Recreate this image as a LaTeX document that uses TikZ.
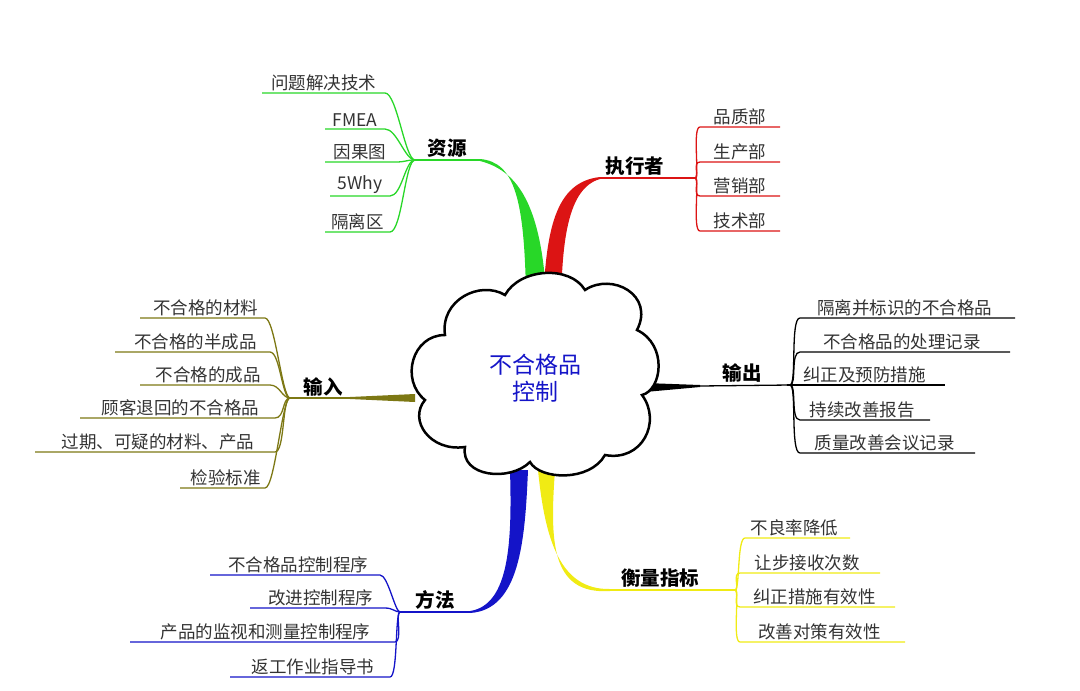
\documentclass[tikz,border=0pt]{standalone}
\usepackage{fontspec}
\newfontfamily\cjk{Noto Sans CJK SC}
\begin{document}
\begin{tikzpicture}[x=1pt,y=-1pt,
 leaf/.style={font=\cjk\fontsize{17.5}{20}\selectfont,anchor=south,inner sep=1pt,text=black!80},
 lab/.style={font=\cjk\bfseries\fontsize{19.5}{22}\selectfont,anchor=south,inner sep=1pt},
 ln/.style={line width=1.3pt}]
\useasboundingbox (0,0) rectangle (1080,691);
\definecolor{gr}{RGB}{40,215,40}\definecolor{rd}{RGB}{220,20,20}
\definecolor{ol}{RGB}{125,120,20}\definecolor{bl}{RGB}{20,20,200}
\definecolor{ye}{RGB}{240,235,20}
% tapers
\fill[gr] (526,292) .. controls (524,200) and (515,162) .. (480,159) -- (480,161) .. controls (515,170) and (540,200) .. (546,292) -- cycle;
\fill[rd] (543,305) .. controls (546,230) and (555,182) .. (600,177) -- (600,179) .. controls (568,188) and (562,240) .. (561,305) -- cycle;
\fill[bl] (510,470) .. controls (512,540) and (510,605) .. (470,611) -- (470,613) .. controls (520,610) and (525,540) .. (528,470) -- cycle;
\fill[ye] (538,470) .. controls (545,540) and (560,590) .. (610,589) -- (610,591) .. controls (550,595) and (550,540) .. (555,470) -- cycle;
\fill[black] (645,383) -- (700,385) -- (700,387) -- (645,392) -- cycle;
\fill[ol] (415,394) -- (350,397) -- (350,399) -- (415,402) -- cycle;
% cloud
\draw[line width=2.5pt,fill=white] (425,400) .. controls (400,380) and (412,335) .. (445,335) .. controls (440,300) and (480,280) .. (505,295) .. controls (520,268) and (570,265) .. (585,290) .. controls (612,272) and (655,295) .. (637,330) .. controls (668,345) and (662,390) .. (642,395) .. controls (662,422) and (642,462) .. (605,455) .. controls (590,482) and (540,480) .. (530,462) .. controls (510,482) and (460,477) .. (465,447) .. controls (430,452) and (408,420) .. (425,400) -- cycle;
\node[font=\cjk\fontsize{23}{27}\selectfont,text=bl,align=center] (c) at (535,378) {不合格品\\控制};
% main lines and labels
\coordinate (fg) at (415,160); \draw[ln,gr] (480,160) -- (fg); \node[lab] (lg) at (447,159) {资源};
\coordinate (fr) at (695,178); \draw[ln,rd] (600,178) -- (fr); \node[lab] (lr) at (635,177) {执行者};
\coordinate (fk) at (790,385); \draw[ln,black] (700,386) -- (fk); \node[lab] (lk) at (742,384) {输出};
\coordinate (fo) at (290,398); \draw[ln,ol] (350,398) -- (fo); \node[lab] (lo) at (323,397) {输入};
\coordinate (fb) at (400,612); \draw[ln,bl] (470,612) -- (fb); \node[lab] (lb) at (435,611) {方法};
\coordinate (fy) at (735,590); \draw[ln,ye] (610,590) -- (fy); \node[lab] (ly) at (660,589) {衡量指标};
% left leaves
\foreach \t/\y/\a/\b/\n in {问题解决技术/93/262/385/g1,FMEA/129/325/385/g2,因果图/162/325/395/g3,5Why/196/330/390/g4,隔离区/232/325/390/g5}{
 \draw[ln,gr] (fg) .. controls (405,160) and (\b+12,\y) .. (\b,\y) -- (\a,\y);
 \node[leaf] (\n) at ({(\a+\b)/2},\y-1) {\t};}
\foreach \t/\y/\a/\b/\n in {不合格的材料/318/140/265/o1,不合格的半成品/352/115/270/o2,不合格的成品/385/140/270/o3,顾客退回的不合格品/418/80/275/o4,过期、可疑的材料、产品/452/35/275/o5,检验标准/488/180/265/o6}{
 \draw[ln,ol] (fo) .. controls (282,398) and (\b+10,\y) .. (\b,\y) -- (\a,\y);
 \node[leaf] (\n) at ({(\a+\b)/2+3},\y-1) {\t};}
\foreach \t/\y/\a/\b/\n in {不合格品控制程序/575/210/380/b1,改进控制程序/608/250/385/b2,产品的监视和测量控制程序/642/130/395/b3,返工作业指导书/677/230/390/b4}{
 \draw[ln,bl] (fb) .. controls (395,612) and (\b+8,\y) .. (\b,\y) -- (\a,\y);
 \node[leaf] (\n) at ({(\a+\b)/2+3},\y-1) {\t};}
% right leaves
\foreach \t/\y/\a/\b/\n in {品质部/127/700/780/r1,生产部/162/700/780/r2,营销部/196/700/780/r3,技术部/231/700/780/r4}{
 \draw[ln,rd] (fr) .. controls (700,178) and (\a-8,\y) .. (\a,\y) -- (\b,\y);
 \node[leaf] (\n) at ({(\a+\b)/2},\y-1) {\t};}
\foreach \t/\y/\a/\b/\n in {隔离并标识的不合格品/318/800/1015/k1,不合格品的处理记录/352/800/1010/k2,纠正及预防措施/385/790/945/k3,持续改善报告/420/800/930/k4,质量改善会议记录/453/800/975/k5}{
 \draw[ln,black] (fk) .. controls (797,385) and (\a-10,\y) .. (\a,\y) -- (\b,\y);
 \node[leaf] (\n) at ({(\a+\b)/2-3},\y-1) {\t};}
\foreach \t/\y/\a/\b/\n in {不良率降低/538/745/850/y1,让步接收次数/573/740/880/y2,纠正措施有效性/607/740/895/y3,改善对策有效性/642/740/905/y4}{
 \draw[ln,ye] (fy) .. controls (740,590) and (\a-8,\y) .. (\a,\y) -- (\b,\y);
 \node[leaf] (\n) at ({(\a+\b)/2-3},\y-1) {\t};}
\end{tikzpicture}
\end{document}
